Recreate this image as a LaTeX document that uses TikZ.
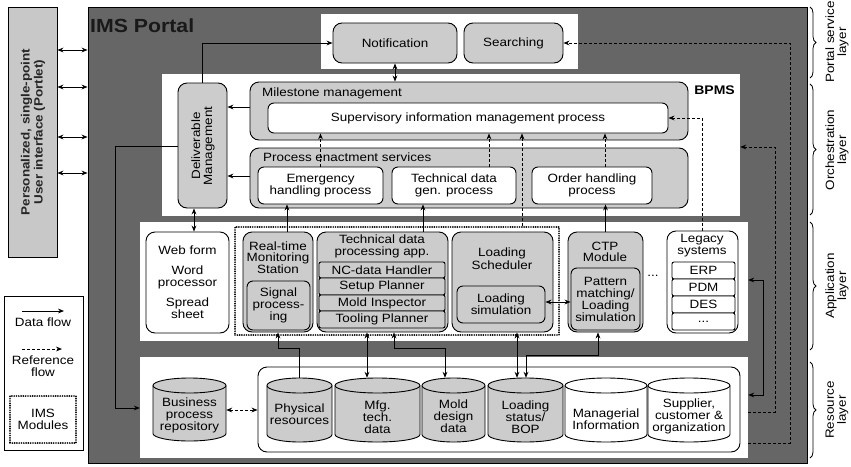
\documentclass[tikz,border=0pt]{standalone}
\usepackage{fontspec}
\setmainfont{Liberation Sans}[FakeStretch=1.12]
\usetikzlibrary{arrows.meta,decorations.pathreplacing}
\definecolor{lg}{HTML}{CCCCCC}
\definecolor{pg}{HTML}{C8C8C8}
\definecolor{dg}{HTML}{666666}
\newcommand\mybox[7]{\node[#1,minimum width={(#5-#3)*1pt},minimum height={(#6-#4)*1pt}] (#2) at ({(#3+#5)/2},{(#4+#6)/2}) {#7};}
\newcommand\mycyl[8]{%
  \draw[line width=0.9pt, fill=#1] (#3,#4+7.5) -- (#3,#6-7.5) arc[start angle=180,end angle=360,x radius={(#5-#3)/2*1pt},y radius=7.5pt] -- (#5,#4+7.5) arc[start angle=0,end angle=180,x radius={(#5-#3)/2*1pt},y radius=7.5pt] -- cycle;
  \draw[line width=0.9pt] (#3,#4+7.5) arc[start angle=180,end angle=360,x radius={(#5-#3)/2*1pt},y radius=7.5pt];
  \node[inner sep=0pt,minimum width={(#5-#3)*1pt},minimum height={(#6-#4)*1pt}] (#2) at ({(#3+#5)/2},{(#4+#6)/2}) {};
  \node[align=center,inner sep=0pt] (#2t) at ({(#3+#5)/2},{(#4+#6)/2+#8}) {#7};}
\tikzset{
  bx/.style={draw=black, line width=0.9pt, inner sep=1pt, align=center},
  gbig/.style={bx, fill=lg, rounded corners=9pt},
  gsm/.style={bx, fill=lg, rounded corners=6pt},
  wsm/.style={bx, fill=white, rounded corners=6pt},
  wbig/.style={bx, fill=white, rounded corners=9pt},
  rowbox/.style={bx, fill=lg, rounded corners=2pt},
  wrowbox/.style={bx, fill=white, rounded corners=2pt},
  layerbox/.style={fill=white, draw=none, inner sep=0pt},
  darkbox/.style={draw=black, line width=0.9pt, fill=dg, inner sep=0pt},
  pbar/.style={draw=black, line width=0.9pt, fill=pg, inner sep=0pt},
  legbox/.style={draw=black, line width=0.9pt, fill=white, inner sep=0pt},
  dflow/.style={draw=black, line width=0.9pt},
  refl/.style={draw=black, line width=0.9pt, dash pattern=on 3pt off 2pt},
  imsbox/.style={draw=black, line width=1.9pt, line cap=round, dash pattern=on 0pt off 2.3pt, inner sep=0pt, align=center},
  ttl/.style={align=center, inner sep=0pt},
  brc/.style={decorate, decoration={brace, amplitude=6pt}, line width=0.8pt},
  laylbl/.style={rotate=90, align=center, inner sep=0pt, font=\fontsize{12}{12}\selectfont},
}
\begin{document}
\begin{tikzpicture}[x=1pt,y=-1pt,font=\fontsize{12}{12}\selectfont,>={Stealth[length=6pt,width=4.8pt]}]
\fill[white] (0,0) rectangle (851,466);
\useasboundingbox (0,0) rectangle (851,466);

% portlet bar and portal
\mybox{pbar}{portlet}{8}{7}{57}{257}{}
\node[rotate=90, align=center, inner sep=0pt, font=\bfseries\fontsize{12}{13}\selectfont, text=black!85] (portlettxt) at (33,132) {Personalized, single-point\\User interface (Portlet)};
\mybox{darkbox}{portal}{88}{7}{807}{463}{}
\node[anchor=west, inner sep=0pt, font=\bfseries\fontsize{19}{19}\selectfont, text=black!90] (imslbl) at (90,26) {IMS Portal};

% layers
\mybox{layerbox}{psl}{321}{14}{578}{69}{}
\mybox{layerbox}{bpms}{162}{74}{740}{216}{}
\mybox{layerbox}{appbox}{140}{222}{748}{341}{}
\mybox{layerbox}{resbox}{140}{357}{748}{458}{}

% portal service layer
\mybox{gbig}{notif}{333}{23}{457}{63}{Notification}
\mybox{gbig}{searching}{464}{23}{563}{63}{Searching}

% orchestration layer
\node[anchor=east, inner sep=0pt, font=\bfseries\fontsize{12.5}{13}\selectfont] (bpmslbl) at (735,90) {BPMS};
\mybox{gbig}{deliv}{178}{83}{227}{208}{}
\node[rotate=90, ttl] (delivtxt) at (203,146) {Deliverable\\Management};
\mybox{gbig}{mile}{250}{82}{688}{140}{}
\node[anchor=west, inner sep=0pt] (miletxt) at (262,93) {Milestone management};
\mybox{wsm}{sup}{268}{103}{668}{133}{Supervisory information management process}
\mybox{gbig}{proc}{250}{148}{688}{208}{}
\node[anchor=west, inner sep=0pt] (proctxt) at (263,157) {Process enactment services};
\mybox{wsm}{emerg}{258}{167}{383}{204}{Emergency\\handling process}
\mybox{wsm}{techgen}{392}{167}{516}{204}{Technical data\\gen. process}
\mybox{wsm}{order}{532}{167}{652}{204}{Order handling\\process}

% application layer
\mybox{wbig}{web}{146}{232}{229}{333}{Web form\\[8pt]Word\\processor\\[8pt]Spread\\sheet}
\mybox{imsbox}{imsmod}{235}{227}{559}{335}{}
\mybox{gbig}{rt}{243}{232}{313}{332}{}
\node[ttl, font=\fontsize{12}{11}\selectfont] (rttxt) at (278,258) {Real-time\\Monitoring\\Station};
\mybox{gsm}{sig}{247}{281}{310}{330}{\fontsize{12}{11.5}\selectfont Signal\\process-\\ing}
\mybox{gbig}{tdp}{317}{232}{448}{332}{}
\node[ttl] (tdptxt) at (382,246) {Technical data\\processing app.};
\mybox{rowbox}{nc}{319}{262}{445}{278}{NC-data Handler}
\mybox{rowbox}{setup}{319}{278}{445}{295}{Setup Planner}
\mybox{rowbox}{moldi}{319}{295}{445}{311}{Mold Inspector}
\mybox{rowbox}{tool}{319}{311}{445}{328}{Tooling Planner}
\mybox{gbig}{ls}{452}{232}{553}{332}{}
\node[ttl, font=\fontsize{12}{13}\selectfont] (lstxt) at (502,259) {Loading\\Scheduler};
\mybox{gsm}{lsim}{457}{286}{545}{323}{Loading\\simulation}
\mybox{gbig}{ctp}{568}{232}{643}{332}{}
\node[ttl, font=\fontsize{12}{11.5}\selectfont] (ctptxt) at (605,252) {CTP\\Module};
\mybox{gsm}{pat}{571}{268}{640}{330}{\fontsize{12}{11.5}\selectfont Pattern\\matching/\\Loading\\simulation}
\node[inner sep=0pt] (appdots) at (653,276) {...};
\mybox{wbig}{legacy}{667}{231}{738}{333}{}
\node[ttl] (legtxt) at (702,246) {Legacy\\systems};
\mybox{wrowbox}{erp}{672}{262}{735}{279}{ERP}
\mybox{wrowbox}{pdm}{672}{279}{735}{296}{PDM}
\mybox{wrowbox}{des}{672}{296}{735}{313}{DES}
\mybox{wrowbox}{more}{672}{313}{735}{330}{...}

% resource layer
\mycyl{lg}{bpr}{153}{378}{226}{441}{Business\\process\\repository}{5.5}
\mybox{wbig}{inner}{258}{367}{740}{452}{}
\mycyl{lg}{phys}{267}{378}{332}{442}{Physical\\resources}{4.5}
\mycyl{lg}{mfg}{335}{378}{420}{442}{Mfg.\\tech.\\data}{7.5}
\mycyl{lg}{mold}{422}{378}{485}{442}{Mold\\design\\data}{6}
\mycyl{lg}{load}{488}{378}{563}{442}{Loading\\status/\\BOP}{7}
\mycyl{white}{mgr}{565}{378}{647}{442}{Managerial\\Information}{9}
\mycyl{white}{supp}{648}{378}{730}{442}{Supplier,\\customer \&\\organization}{6}

% helper coordinates
\coordinate (pla) at (0,50);
\coordinate (plb) at (0,87);
\coordinate (plc) at (0,137);
\coordinate (pld) at (0,173);
\coordinate (y107) at (0,107);
\coordinate (y146) at (0,146);
\coordinate (y176) at (0,176);
\coordinate (y147) at (0,147);
\coordinate (y280) at (0,280);
\coordinate (y302) at (0,302);
\coordinate (y348) at (0,348);
\coordinate (y355) at (0,355);
\coordinate (y395) at (0,395);
\coordinate (y408) at (0,408);
\coordinate (y410) at (0,410);
\coordinate (y412) at (0,412);
\coordinate (y443) at (0,443);
\coordinate (x115) at (115,0);
\coordinate (x194) at (194,0);
\coordinate (x287) at (287,0);
\coordinate (x367) at (367,0);
\coordinate (x394) at (394,0);
\coordinate (x423) at (423,0);
\coordinate (x445) at (445,0);
\coordinate (x489) at (489,0);
\coordinate (x517) at (517,0);
\coordinate (x522) at (522,0);
\coordinate (x526) at (526,0);
\coordinate (x598) at (598,0);
\coordinate (x605) at (605,0);
\coordinate (x763) at (763,0);
\coordinate (x775) at (775,0);
\coordinate (x790) at (790,0);

% portlet <-> portal
\draw[dflow,<->] (portlet.east |- pla) -- (portal.west |- pla);
\draw[dflow,<->] (portlet.east |- plb) -- (portal.west |- plb);
\draw[dflow,<->] (portlet.east |- plc) -- (portal.west |- plc);
\draw[dflow,<->] (portlet.east |- pld) -- (portal.west |- pld);

% data flows in the upper layers
\draw[dflow,->] (deliv.north) |- (notif.west);
\draw[dflow,<->] (notif.south) -- (notif.south |- mile.north);
\draw[dflow,->] (mile.west |- y107) -- (deliv.east |- y107);
\draw[dflow,->] (proc.west |- y176) -- (deliv.east |- y176);
\draw[dflow,->] (deliv.west |- y146) -- (x115 |- y146) -- (x115 |- y408) -- (resbox.west |- y408);
\draw[dflow,<->] (deliv.south -| x194) -- (web.north -| x194);

% reference flows to the supervisory process
\draw[refl,->] (emerg.north) -- (emerg.north |- sup.south);
\draw[refl,->] (techgen.north -| x489) -- (sup.south -| x489);
\draw[refl,->] (imsmod.north -| x522) -- (sup.south -| x522);
\draw[refl,->] (order.north -| x605) -- (sup.south -| x605);
\draw[refl,->] (legacy.north) |- (sup.east);
\draw[refl,->] (resbox.east |- y443) -- (x790 |- y443) -- (x790 |- searching.east) -- (searching.east);
\draw[refl,->] (resbox.east |- y412) -- (x775 |- y412) -- (x775 |- y147) -- (bpms.east |- y147);
\draw[dflow,<->] (appbox.east |- y280) -- (x763 |- y280) -- (x763 |- y395) -- (resbox.east |- y395);

% applications to processes
\draw[dflow,->] (rt.north -| x287) -- (emerg.south -| x287);
\draw[dflow,->] (tdp.north -| x423) -- (techgen.south -| x423);
\draw[dflow,->] (ctp.north) -- (ctp.north |- order.south);
\draw[dflow,<->] (lsim.east |- y302) -- (pat.west |- y302);

% resources to applications
\draw[dflow,->] (phys.north) -- (phys.north |- y348) -- (rt.south |- y348) -- (rt.south);
\draw[dflow,<->] (tdp.south -| x367) -- (mfg.north -| x367);
\draw[dflow,<->] (tdp.south -| x394) -- (x394 |- y348) -- (x445 |- y348) -- (mold.north -| x445);
\draw[dflow,<->] (ls.south -| x517) -- (load.north -| x517);
\draw[dflow,<->] (ctp.south -| x598) -- (x598 |- y355) -- (x526 |- y355) -- (load.north -| x526);
\draw[refl,<->] (bpr.east |- y410) -- (inner.west |- y410);

% legend
\mybox{legbox}{legend}{4}{296}{83}{450}{}
\coordinate (lga) at (22,311);
\coordinate (lgb) at (64,311);
\draw[dflow,->] (lga) -- (lgb);
\node[inner sep=0pt] (lgdata) at (43,322) {Data flow};
\coordinate (lgc) at (22,349);
\coordinate (lgd) at (62,349);
\draw[refl,->] (lgc) -- (lgd);
\node[ttl] (lgref) at (43,366) {Reference\\flow};
\mybox{imsbox}{lgims}{10}{396}{76}{443}{IMS\\Modules}

% layer braces
\draw[brc] (810,7) -- (810,78);
\node[laylbl] (lay1) at (837,42) {Portal service\\layer};
\draw[brc] (810,84) -- (810,215);
\node[laylbl] (lay2) at (837,150) {Orchestration\\layer};
\draw[brc] (810,222) -- (810,350);
\node[laylbl] (lay3) at (837,286) {Application\\layer};
\draw[brc] (810,362) -- (810,458);
\node[laylbl] (lay4) at (837,410) {Resource\\layer};
\end{tikzpicture}
\end{document}
